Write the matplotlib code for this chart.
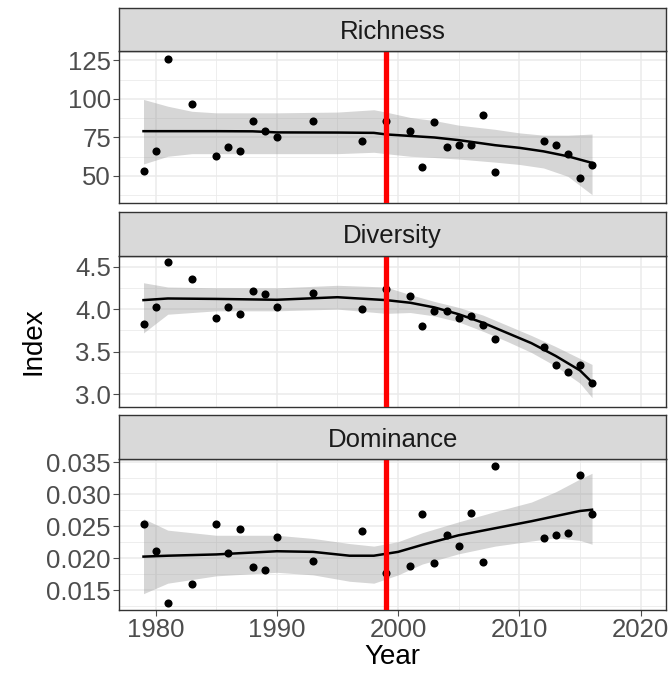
import numpy as np
import matplotlib.pyplot as plt
from matplotlib.ticker import MultipleLocator

plt.rcParams['font.family'] = ['Liberation Sans', 'DejaVu Sans']

# observed values
years = [1979, 1980, 1981, 1983, 1985, 1986, 1987, 1988, 1989, 1990, 1993, 1997, 1999,
         2001, 2002, 2003, 2004, 2005, 2006, 2007, 2008, 2012, 2013, 2014, 2015, 2016]
richness = [53.5, 66.5, 126, 97, 63, 69, 66, 86, 79, 75, 86, 72.5, 86,
            79, 56, 85, 69, 70, 70, 89.5, 52.5, 72.5, 70, 64, 49, 57]
diversity = [3.83, 4.02, 4.55, 4.35, 3.89, 4.03, 3.94, 4.21, 4.18, 4.02, 4.19, 4.00, 4.24,
             4.16, 3.80, 3.98, 3.98, 3.89, 3.92, 3.81, 3.65, 3.56, 3.34, 3.26, 3.34, 3.13]
dominance = [0.0253, 0.0211, 0.0130, 0.0159, 0.0253, 0.0209, 0.0246, 0.0186, 0.0181, 0.0233,
             0.0196, 0.0242, 0.0177, 0.0188, 0.0269, 0.0192, 0.0236, 0.0219, 0.0271, 0.0194,
             0.0344, 0.0231, 0.0236, 0.0240, 0.0331, 0.0270]

# loess fit and confidence band
rich_sx = [1979, 1981, 1983, 1985, 1988, 1990, 1995, 1998, 1999, 2001, 2003, 2005, 2008, 2010, 2012, 2014, 2016]
rich_fit = [79.1, 79.1, 79.1, 79.1, 79.0, 78.3, 78.2, 78.0, 77.0, 76.0, 75.0, 73.3, 70.0, 68.3, 66.0, 62.8, 58.5]
rich_hi = [99.7, 95.3, 92.0, 91.0, 91.0, 91.0, 91.5, 93.0, 91.5, 88.0, 86.0, 83.0, 80.3, 78.0, 76.5, 76.5, 77.2]
rich_lo = [57.8, 62.8, 64.5, 64.5, 64.5, 64.5, 64.5, 65.4, 64.5, 62.8, 62.0, 61.0, 59.0, 57.5, 55.2, 49.8, 37.9]

div_sx = [1979, 1981, 1985, 1990, 1995, 1999, 2001, 2003, 2005, 2007, 2009, 2011, 2013, 2015, 2016]
div_fit = [4.106, 4.125, 4.12, 4.11, 4.14, 4.106, 4.075, 4.02, 3.94, 3.84, 3.72, 3.60, 3.45, 3.28, 3.14]
div_hi = [4.31, 4.26, 4.25, 4.25, 4.28, 4.26, 4.17, 4.09, 4.02, 3.93, 3.81, 3.69, 3.56, 3.42, 3.35]
div_lo = [3.72, 3.94, 3.98, 3.98, 4.00, 3.95, 3.96, 3.92, 3.85, 3.74, 3.62, 3.49, 3.33, 3.13, 2.96]

dom_sx = [1979, 1981, 1985, 1990, 1993, 1996, 1998, 2000, 2002, 2005, 2008, 2011, 2013, 2015, 2016]
dom_fit = [0.02026, 0.0204, 0.0206, 0.0211, 0.0210, 0.0204, 0.0204, 0.0210, 0.0221, 0.0236, 0.0247,
           0.0258, 0.0266, 0.0274, 0.0276]
dom_hi = [0.0262, 0.0244, 0.0236, 0.0236, 0.0231, 0.0223, 0.0219, 0.0226, 0.0240, 0.0257, 0.0273,
          0.0288, 0.0304, 0.0324, 0.0333]
dom_lo = [0.01446, 0.0161, 0.01725, 0.0178, 0.0174, 0.0164, 0.0161, 0.0174, 0.0191, 0.0207, 0.0219,
          0.0227, 0.0232, 0.0228, 0.0222]

break_year = 1999

panels = [
    ('Richness', richness, rich_sx, rich_fit, rich_lo, rich_hi, (32.6, 130.9), [50, 75, 100, 125], '{:.0f}'),
    ('Diversity', diversity, div_sx, div_fit, div_lo, div_hi, (2.85, 4.63), [3.0, 3.5, 4.0, 4.5], '{:.1f}'),
    ('Dominance', dominance, dom_sx, dom_fit, dom_lo, dom_hi, (0.0119, 0.0356),
     [0.015, 0.020, 0.025, 0.030, 0.035], '{:.3f}'),
]

fig = plt.figure(figsize=(6.7, 6.76), dpi=100)
left, width = 0.178, 0.816
bottoms = [0.700, 0.398, 0.0976]
h_axes, h_strip = 0.224, 0.064
grid_col = '#EBEBEB'
border = '#333333'

for (name, vals, sx, fit, lo, hi, ylim, yt, fmt), b in zip(panels, bottoms):
    ax = fig.add_axes([left, b, width, h_axes])
    ax.fill_between(sx, lo, hi, color='#999999', alpha=0.4, linewidth=0, zorder=2)
    ax.plot(sx, fit, color='black', lw=1.8, zorder=3)
    ax.scatter(years, vals, s=34, color='black', zorder=4, linewidths=0)
    ax.axvline(break_year, color='#FF0000', lw=3.8, zorder=5)
    ax.set_xlim(1977.0, 2022.1)
    ax.set_ylim(*ylim)
    ax.set_yticks(yt)
    ax.set_yticklabels([fmt.format(v) for v in yt])
    ax.yaxis.set_minor_locator(MultipleLocator((yt[1] - yt[0]) / 2))
    ax.set_xticks([1980, 1990, 2000, 2010, 2020])
    ax.xaxis.set_minor_locator(MultipleLocator(5))
    ax.grid(True, which='major', color=grid_col, lw=1.1, zorder=0)
    ax.grid(True, which='minor', color=grid_col, lw=0.6, zorder=0)
    ax.set_axisbelow(True)
    ax.tick_params(axis='both', which='major', labelsize=18.5, colors='#4D4D4D',
                   length=4, width=0.8, pad=2)
    ax.tick_params(axis='both', which='minor', length=0)
    for s in ax.spines.values():
        s.set_color(border)
        s.set_linewidth(1.0)
    if name != 'Dominance':
        ax.tick_params(axis='x', labelbottom=False, length=0)
    else:
        ax.set_xlabel('Year', fontsize=20, labelpad=1)

    sax = fig.add_axes([left, b + h_axes, width, h_strip])
    sax.set_facecolor('#D9D9D9')
    sax.set_xticks([])
    sax.set_yticks([])
    for s in sax.spines.values():
        s.set_color(border)
        s.set_linewidth(1.0)
    sax.text(0.5, 0.44, name, transform=sax.transAxes, ha='center', va='center',
             fontsize=18.5, color='#1A1A1A')

fig.text(0.05, 0.495, 'Index', rotation=90, ha='center', va='center', fontsize=20)

plt.savefig('out.png', dpi=100)
